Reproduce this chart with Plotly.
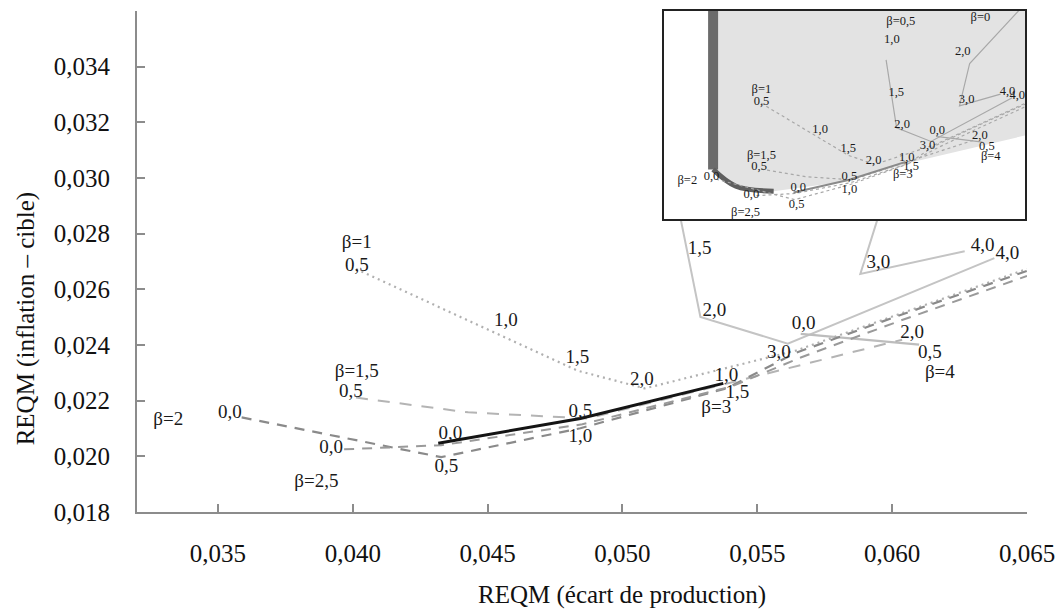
import plotly.graph_objects as go

# ---- axis ranges -------------------------------------------------------
X_RANGE = [0.032, 0.065]
Y_RANGE = [0.018, 0.036]
INSET_X_RANGE = [0.031, 0.065]
INSET_Y_RANGE = [0.0186, 0.0332]

# ---- frontier curves, one per beta -------------------------------------
beta_0_x = [0.0660, 0.05978, 0.05882, 0.06269]
beta_0_y = [0.0345, 0.02952, 0.02655, 0.02737]

beta_05_x = [0.05190, 0.05238, 0.05289, 0.05613, 0.06379]
beta_05_y = [0.02977, 0.02745, 0.02501, 0.02405, 0.02712]

beta_1_x = [0.04012, 0.04557, 0.04833, 0.05083, 0.05643, 0.06500]
beta_1_y = [0.02673, 0.02430, 0.02308, 0.02244, 0.02380, 0.02673]

beta_15_x = [0.04012, 0.04428, 0.04870, 0.06037]
beta_15_y = [0.02211, 0.02158, 0.02136, 0.02419]

beta_2_x = [0.03588, 0.04328, 0.04844, 0.05385, 0.05643, 0.06011, 0.06500]
beta_2_y = [0.02140, 0.01997, 0.02101, 0.02244, 0.02372, 0.02501, 0.02666]

beta_25_x = [0.03968, 0.04328, 0.04851, 0.05404, 0.05661, 0.06029, 0.06500]
beta_25_y = [0.02025, 0.02040, 0.02115, 0.02251, 0.02355, 0.02487, 0.02648]

beta_3_x = [0.04317, 0.04844, 0.05374]
beta_3_y = [0.02047, 0.02136, 0.02262]

beta_4_x = [0.05661, 0.06100]
beta_4_y = [0.02440, 0.02401]

# lower-left envelope shown in the small overview panel
frontier_x = [0.03559, 0.03559, 0.03774, 0.04130, 0.04805, 0.05461, 0.06540]
frontier_y = [0.03400, 0.02209, 0.02091, 0.02056, 0.02125, 0.02265, 0.02454]

# ---- point labels ------------------------------------------------------
label_text = ["β=1", "0,5", "1,0", "1,5", "2,0",
              "β=1,5", "0,5",
              "β=2", "0,0", "0,0", "β=2,5",
              "0,0", "0,5", "0,5", "1,0",
              "1,0", "1,5", "β=3",
              "1,5", "2,0", "3,0", "0,0",
              "2,0", "0,5", "β=4",
              "3,0", "4,0", "4,0",
              "β=0,5", "1,0", "β=0", "2,0"]
label_x = [0.04015, 0.04015, 0.04568, 0.04833, 0.05072,
           0.04015, 0.03993,
           0.03316, 0.03544, 0.03920, 0.03865,
           0.04362, 0.04347, 0.04844, 0.04844,
           0.05385, 0.05426, 0.05348,
           0.05286, 0.05341, 0.05580, 0.05672,
           0.06074, 0.06140, 0.06177,
           0.05949, 0.06335, 0.06427,
           0.05329, 0.05245, 0.06079, 0.05913]
label_y = [0.02766, 0.02684, 0.02487, 0.02351, 0.02272,
           0.02301, 0.02229,
           0.02129, 0.02154, 0.02029, 0.01907,
           0.02079, 0.01961, 0.02158, 0.02068,
           0.02287, 0.02226, 0.02172,
           0.02745, 0.02523, 0.02372, 0.02476,
           0.02444, 0.02369, 0.02297,
           0.02695, 0.02755, 0.02727,
           0.03243, 0.03117, 0.03271, 0.03034]

# ---- tick labels -------------------------------------------------------
x_tickvals = [0.035, 0.040, 0.045, 0.050, 0.055, 0.060, 0.065]
y_tickvals = [0.018, 0.020, 0.022, 0.024, 0.026, 0.028, 0.030, 0.032, 0.034]

SERIF = "Liberation Serif"

# (x, y, colour, width, dash) for each curve, main panel
curve_styles = [
    (beta_0_x, beta_0_y, "#c4c4c4", 2.0, "solid"),
    (beta_05_x, beta_05_y, "#c4c4c4", 2.0, "solid"),
    (beta_4_x, beta_4_y, "#bdbdbd", 2.2, "solid"),
    (beta_1_x, beta_1_y, "#b0b0b0", 2.2, "2px,4px"),
    (beta_15_x, beta_15_y, "#b4b4b4", 2.0, "12px,10px"),
    (beta_2_x, beta_2_y, "#8a8a8a", 2.2, "10px,8px"),
    (beta_25_x, beta_25_y, "#9a9a9a", 2.0, "10px,8px"),
    (beta_3_x, beta_3_y, "#141414", 3.0, "solid"),
]

fig = go.Figure()

# main panel curves
for cx, cy, col, w, dash in curve_styles:
    fig.add_trace(go.Scatter(x=cx, y=cy, mode="lines",
                             line=dict(color=col, width=w, dash=dash),
                             xaxis="x", yaxis="y", hoverinfo="skip"))

fig.add_trace(go.Scatter(x=label_x, y=label_y, text=label_text, mode="text",
                         textposition="middle center",
                         textfont=dict(family=SERIF, size=19, color="#1a1a1a"),
                         cliponaxis=False, xaxis="x", yaxis="y", hoverinfo="skip"))

# overview panel: shaded region above the envelope
fig.add_trace(go.Scatter(x=frontier_x + [frontier_x[-1]],
                         y=frontier_y + [frontier_y[0]],
                         mode="lines", fill="toself", fillcolor="#e3e3e3",
                         line=dict(width=0), xaxis="x2", yaxis="y2",
                         hoverinfo="skip"))
fig.add_trace(go.Scatter(x=frontier_x[:2], y=frontier_y[:2], mode="lines",
                         line=dict(color="#6b6b6b", width=10),
                         xaxis="x2", yaxis="y2", hoverinfo="skip"))
fig.add_trace(go.Scatter(x=frontier_x[1:4], y=frontier_y[1:4], mode="lines",
                         line=dict(color="#5f5f5f", width=5, shape="spline"),
                         xaxis="x2", yaxis="y2", hoverinfo="skip"))

for cx, cy, col, w, dash in curve_styles:
    is_black = col == "#141414"
    fig.add_trace(go.Scatter(x=cx, y=cy, mode="lines",
                             line=dict(color="#8a8a8a" if is_black else "#a8a8a8",
                                       width=2 if is_black else 1.2,
                                       dash="solid" if dash == "solid" else "dot"),
                             xaxis="x2", yaxis="y2", hoverinfo="skip"))

fig.add_trace(go.Scatter(x=label_x, y=label_y, text=label_text, mode="text",
                         textposition="middle center",
                         textfont=dict(family=SERIF, size=12.5, color="#1a1a1a"),
                         cliponaxis=True, xaxis="x2", yaxis="y2", hoverinfo="skip"))

axis_grey = "#8c8c8c"
fig.update_layout(
    width=1064, height=609,
    margin=dict(l=137, r=31, t=9, b=97),
    paper_bgcolor="white", plot_bgcolor="white",
    showlegend=False,
    separators=", ",
    font=dict(family=SERIF, color="#111111"),
    xaxis=dict(domain=[0, 1], range=X_RANGE, tickvals=x_tickvals,
               tickformat=".3f", showgrid=False, zeroline=False,
               showline=True, linecolor=axis_grey, linewidth=2,
               ticks="inside", ticklen=8, tickwidth=1.5, tickcolor=axis_grey,
               tickfont=dict(family=SERIF, size=25, color="#111111"),
               ticklabelstandoff=18),
    yaxis=dict(domain=[0, 1], range=Y_RANGE, tickvals=y_tickvals,
               tickformat=".3f", showgrid=False, zeroline=False,
               showline=True, linecolor=axis_grey, linewidth=2,
               ticks="inside", ticklen=8, tickwidth=1.5, tickcolor=axis_grey,
               tickfont=dict(family=SERIF, size=25, color="#111111"),
               ticklabelstandoff=20),
    xaxis2=dict(domain=[0.5926, 0.9978], range=INSET_X_RANGE, anchor="y2",
                showticklabels=False, showgrid=False, zeroline=False,
                showline=True, mirror=True, linecolor="#222222", linewidth=1.5,
                ticks=""),
    yaxis2=dict(domain=[0.5845, 1.0], range=INSET_Y_RANGE, anchor="x2",
                showticklabels=False, showgrid=False, zeroline=False,
                showline=True, mirror=True, linecolor="#222222", linewidth=1.5,
                ticks=""),
    annotations=[
        dict(text="REQM (écart de production)", xref="paper", yref="paper",
             x=0.5446, y=-0.165, xanchor="center", yanchor="middle",
             showarrow=False, font=dict(family=SERIF, size=25, color="#111111")),
        dict(text="REQM (inflation – cible)", xref="paper", yref="paper",
             x=-0.125, y=0.386, xanchor="center", yanchor="middle",
             textangle=-90, showarrow=False,
             font=dict(family=SERIF, size=25, color="#111111")),
    ],
)

fig.write_html("out.html")
